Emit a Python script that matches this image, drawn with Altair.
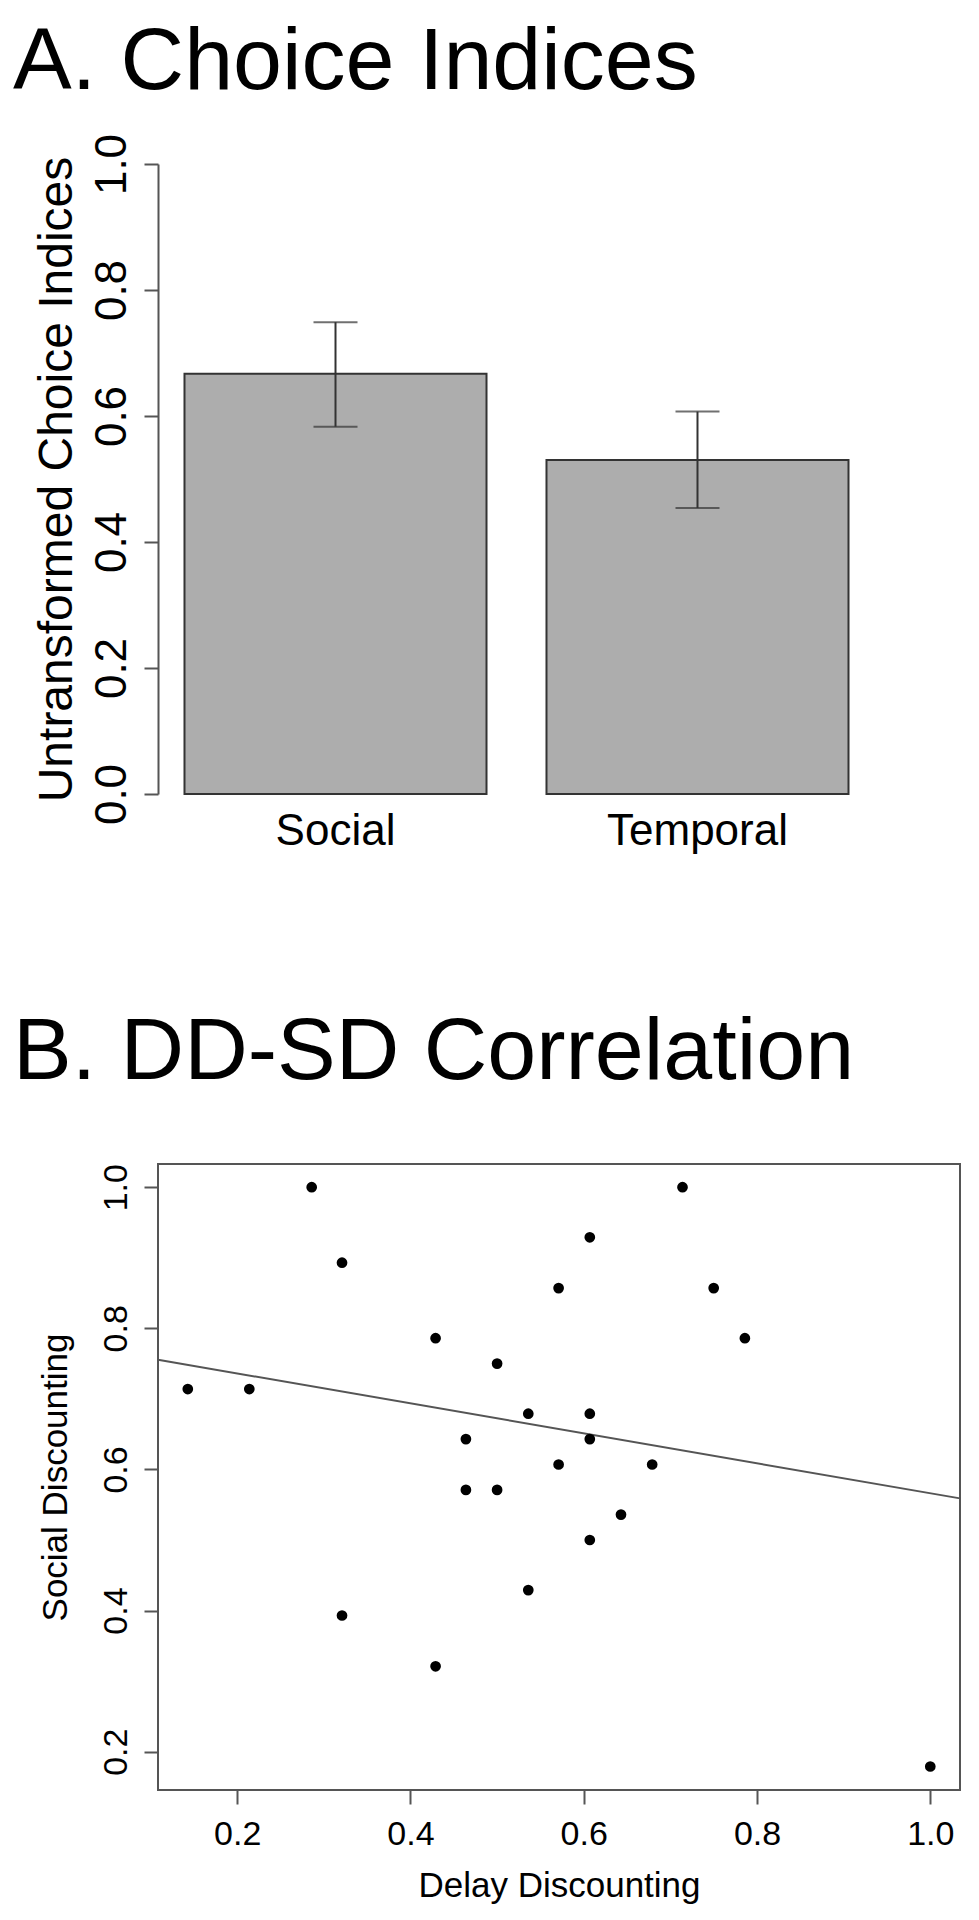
import altair as alt
import pandas as pd

# ---- Panel A data ----
categories = ["Social", "Temporal"]
means = [0.667, 0.530]
err_lo = [0.583, 0.454]
err_hi = [0.749, 0.607]

# ---- Panel B data ----
delay = [0.143, 0.214, 0.286, 0.321, 0.321, 0.429, 0.429, 0.464, 0.464, 0.500,
         0.500, 0.536, 0.536, 0.571, 0.571, 0.607, 0.607, 0.607, 0.607, 0.643,
         0.679, 0.714, 0.750, 0.786, 1.000]
social = [0.714, 0.714, 1.000, 0.893, 0.393, 0.786, 0.321, 0.643, 0.571, 0.750,
          0.571, 0.679, 0.429, 0.857, 0.607, 0.929, 0.679, 0.643, 0.500, 0.536,
          0.607, 1.000, 0.857, 0.786, 0.179]

ticks_a = [0.0, 0.2, 0.4, 0.6, 0.8, 1.0]
ticks_b = [0.2, 0.4, 0.6, 0.8, 1.0]
x_dom_b = [0.1086, 1.0343]
y_dom_b = [0.1457, 1.0329]

FONT = "Liberation Sans"
AX = "#555555"
TITLE_SIZE = 88

df_a = pd.DataFrame({"cat": categories, "mean": means, "lo": err_lo, "hi": err_hi})
df_b = pd.DataFrame({"delay": delay, "social": social})

xa = alt.X("cat:N", sort=categories, title=None,
           scale=alt.Scale(paddingInner=0.1657, paddingOuter=0.0732),
           axis=alt.Axis(domain=False, ticks=False, tickSize=0, labelAngle=0,
                         labelFont=FONT, labelFontSize=44, labelColor="black",
                         labelBaseline="alphabetic", labelPadding=50, labelLimit=500))
ya = alt.Y("mean:Q", scale=alt.Scale(domain=[0, 1], nice=False, zero=False),
           axis=alt.Axis(values=ticks_a, format=".1f", grid=False,
                         domainColor=AX, domainWidth=2, tickColor=AX, tickWidth=2,
                         tickSize=14, labelAngle=270, labelAlign="center",
                         labelBaseline="alphabetic", labelPadding=19,
                         labelFont=FONT, labelFontSize=44, labelColor="black",
                         labelFlush=False, labelOverlap=False,
                         title="Untransformed Choice Indices", titleFont=FONT,
                         titleFontSize=48, titleFontWeight="normal", titleColor="black",
                         titleAngle=270, titleAlign="center", titleBaseline="alphabetic",
                         titleX=-87, titleY=315, titleLimit=1000))

base_a = alt.Chart(df_a)
bars = base_a.mark_bar(fill="#ADADAD", stroke="#333333", strokeWidth=2).encode(x=xa, y=ya)
err_rule = base_a.mark_rule(color="#333333", strokeWidth=2).encode(
    x=alt.X("cat:N", sort=categories), y=alt.Y("lo:Q"), y2="hi:Q")
cap_lo = base_a.mark_tick(color="#333333", thickness=2, size=44).encode(
    x=alt.X("cat:N", sort=categories), y=alt.Y("lo:Q"))
cap_hi = base_a.mark_tick(color="#333333", thickness=2, size=44).encode(
    x=alt.X("cat:N", sort=categories), y=alt.Y("hi:Q"))
title_a = alt.Chart(pd.DataFrame({"t": ["A. Choice Indices"]})).mark_text(
    align="left", baseline="alphabetic", font=FONT, fontSize=TITLE_SIZE, color="black"
).encode(x=alt.value(-145), y=alt.value(-75), text="t:N")

panel_a = alt.layer(bars, err_rule, cap_lo, cap_hi, title_a).properties(width=717, height=630)

xb = alt.X("delay:Q", scale=alt.Scale(domain=x_dom_b, nice=False, zero=False),
           axis=alt.Axis(values=ticks_b, format=".1f", grid=False, domain=False,
                         tickColor=AX, tickWidth=2, tickSize=14,
                         labelBaseline="alphabetic", labelPadding=40,
                         labelFont=FONT, labelFontSize=34, labelColor="black",
                         labelFlush=False, labelOverlap=False,
                         title="Delay Discounting", titleFont=FONT, titleFontSize=35,
                         titleFontWeight="normal", titleColor="black",
                         titleBaseline="alphabetic", titleY=106, titleX=401))
yb = alt.Y("social:Q", scale=alt.Scale(domain=y_dom_b, nice=False, zero=False),
           axis=alt.Axis(values=ticks_b, format=".1f", grid=False, domain=False,
                         tickColor=AX, tickWidth=2, tickSize=14,
                         labelAngle=270, labelAlign="center", labelBaseline="alphabetic",
                         labelPadding=18, labelFont=FONT, labelFontSize=34,
                         labelColor="black", labelFlush=False, labelOverlap=False,
                         title="Social Discounting", titleFont=FONT, titleFontSize=35,
                         titleFontWeight="normal", titleColor="black",
                         titleAngle=270, titleAlign="center", titleBaseline="alphabetic",
                         titleX=-92, titleY=313))

base_b = alt.Chart(df_b)
pts = base_b.mark_circle(color="black", opacity=1, size=115).encode(x=xb, y=yb)
reg = base_b.transform_regression("delay", "social", extent=x_dom_b).mark_line(
    color=AX, strokeWidth=2).encode(x=alt.X("delay:Q"), y=alt.Y("social:Q"))
title_b = alt.Chart(pd.DataFrame({"t": ["B. DD-SD Correlation"]})).mark_text(
    align="left", baseline="alphabetic", font=FONT, fontSize=TITLE_SIZE, color="black"
).encode(x=alt.value(-145), y=alt.value(-85), text="t:N")

panel_b = alt.layer(reg, pts, title_b).properties(
    width=802, height=626, view=alt.ViewBackground(stroke=AX, strokeWidth=2))

chart = alt.vconcat(panel_a, panel_b, spacing=154).properties(
    padding={"left": 4, "top": 10, "right": 5, "bottom": 5},
    background="white",
).configure_view(stroke="transparent")

chart.save("out.html", embed_options={"renderer": "svg", "actions": False})
